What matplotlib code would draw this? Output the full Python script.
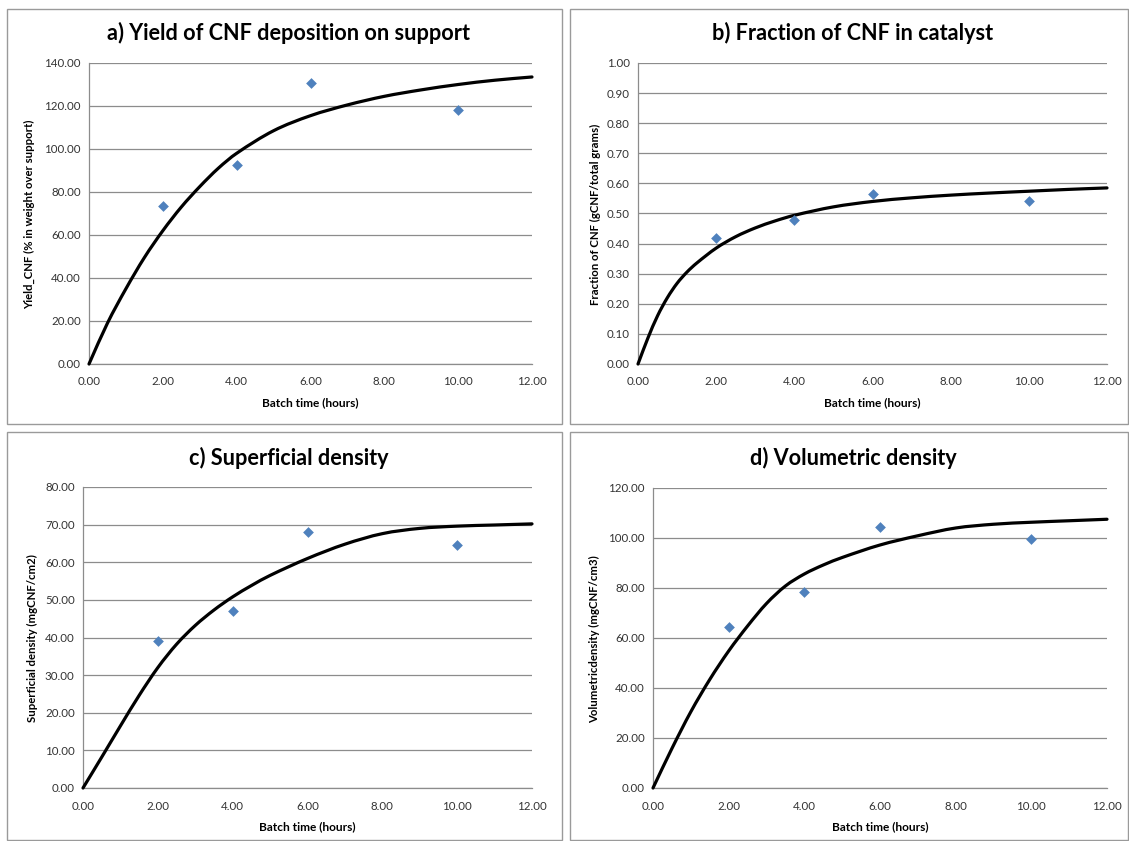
import matplotlib
matplotlib.use("Agg")
import matplotlib.pyplot as plt
from matplotlib.patches import Rectangle, PathPatch
from matplotlib.path import Path

plt.rcParams['font.family'] = ['Lato', 'DejaVu Sans']

# ---- data ----
batch_hours = [2.0, 4.0, 6.0, 10.0]

yield_points = [73.5, 92.5, 130.5, 118.0]
yield_curve_x = [0, 0.5, 1, 1.5, 2, 2.5, 3, 3.5, 4, 5, 6, 7, 8, 9, 10, 11, 12]
yield_curve_y = [0, 19, 35, 49.5, 62, 73, 82.5, 91, 98, 108.5, 115.5, 120.5, 124.5, 127.5, 130, 132, 133.5]

fraction_points = [0.42, 0.48, 0.565, 0.54]
fraction_curve_x = [0, 0.25, 0.5, 0.75, 1, 1.25, 1.5, 2, 2.5, 3, 3.5, 4, 5, 6, 7, 8, 9, 10, 11, 12]
fraction_curve_y = [0, 0.085, 0.16, 0.22, 0.268, 0.305, 0.335, 0.385, 0.423, 0.452, 0.475, 0.494,
                    0.522, 0.54, 0.552, 0.561, 0.568, 0.574, 0.58, 0.585]

superficial_points = [39.0, 47.0, 68.0, 64.7]
superficial_curve_x = [0, 0.5, 1, 1.5, 2, 2.5, 3, 3.5, 4, 4.5, 5, 6, 7, 8, 9, 10, 11, 12]
superficial_curve_y = [0, 8.2, 16.5, 24.6, 32, 38.2, 43.2, 47.3, 50.8, 53.8, 56.5, 61, 64.8, 67.6,
                       69, 69.6, 69.9, 70.2]

volumetric_points = [64.5, 78.5, 104.5, 99.5]
volumetric_curve_x = [0, 0.5, 1, 1.5, 2, 2.5, 3, 3.5, 4, 4.5, 5, 6, 7, 8, 9, 10, 11, 12]
volumetric_curve_y = [0, 15.8, 30.5, 43.4, 54.8, 64.8, 73.8, 80.8, 85.6, 89.2, 92.2, 97.2, 100.9,
                      104, 105.5, 106.3, 106.9, 107.5]

titles = ["a) Yield of CNF deposition on support", "b) Fraction of CNF in catalyst",
          "c) Superficial density", "d) Volumetric density"]
ylabels = ["Yield_CNF (% in weight over support)", "Fraction of CNF (gCNF/total grams)",
           "Superficial density (mgCNF/cm2)", "Volumetricdensity (mgCNF/cm3)"]
xlabel = "Batch time (hours)"
x_ticks = [0, 2, 4, 6, 8, 10, 12]
y_ticks = [
    [0, 20, 40, 60, 80, 100, 120, 140],
    [0, 0.1, 0.2, 0.3, 0.4, 0.5, 0.6, 0.7, 0.8, 0.9, 1.0],
    [0, 10, 20, 30, 40, 50, 60, 70, 80],
    [0, 20, 40, 60, 80, 100, 120],
]

W, H = 1129, 841
fig = plt.figure(figsize=(W / 100, H / 100), dpi=100)


def fx(px):
    return px / W


def fy(py):
    return 1 - py / H


def smooth_path(xs, ys):
    """Smoothed line drawn as cubic Hermite/Bezier segments through the read points."""
    n = len(xs)
    m = []
    for i in range(n):
        a = max(i - 1, 0)
        b = min(i + 1, n - 1)
        m.append((ys[b] - ys[a]) / (xs[b] - xs[a]))
    verts = [(xs[0], ys[0])]
    codes = [Path.MOVETO]
    for i in range(n - 1):
        dx = xs[i + 1] - xs[i]
        c1 = (xs[i] + dx / 3, ys[i] + m[i] * dx / 3)
        c2 = (xs[i + 1] - dx / 3, ys[i + 1] - m[i + 1] * dx / 3)
        verts += [c1, c2, (xs[i + 1], ys[i + 1])]
        codes += [Path.CURVE4] * 3
    return Path(verts, codes)


# panel frames (pixels: x0, y0, x1, y1)
frames = [(7, 9, 562, 424), (570, 9, 1128, 424), (7, 432, 562, 840), (570, 432, 1128, 840)]
for (x0, y0, x1, y1) in frames:
    fig.patches.append(Rectangle((fx(x0), fy(y1)), fx(x1 - x0), (y1 - y0) / H,
                                 transform=fig.transFigure, fill=False,
                                 edgecolor='#9a9a9a', linewidth=1.0))

# axes rectangles (pixels: left, top, right, bottom)
axes_px = [(89, 63, 532, 364), (638, 63, 1107, 364), (83, 487, 532, 788), (653, 488, 1107, 788)]
title_y = [33, 33, 458, 458]
ylabel_x = [30, 595, 32, 595]

series = [
    (yield_points, yield_curve_x, yield_curve_y),
    (fraction_points, fraction_curve_x, fraction_curve_y),
    (superficial_points, superficial_curve_x, superficial_curve_y),
    (volumetric_points, volumetric_curve_x, volumetric_curve_y),
]

for i, (l, t, r, b) in enumerate(axes_px):
    ax = fig.add_axes([fx(l), fy(b), (r - l) / W, (b - t) / H])
    pts, cx, cy = series[i]
    yt = y_ticks[i]
    ax.set_xlim(0, 12)
    ax.set_ylim(yt[0], yt[-1])
    ax.set_xticks(x_ticks)
    ax.set_xticklabels([f"{v:.2f}" for v in x_ticks])
    ax.set_yticks(yt)
    ax.set_yticklabels([f"{v:.2f}" for v in yt])
    ax.grid(axis='y', color='#8c8c8c', linewidth=0.9)
    ax.set_axisbelow(True)
    for s in ['top', 'right']:
        ax.spines[s].set_visible(False)
    for s in ['left', 'bottom']:
        ax.spines[s].set_color('#8c8c8c')
        ax.spines[s].set_linewidth(0.9)
    ax.tick_params(axis='both', length=0, labelsize=8.3, colors='#333333')
    ax.tick_params(axis='x', pad=9)
    ax.tick_params(axis='y', pad=6)
    patch = PathPatch(smooth_path(cx, cy), facecolor='none', edgecolor='black',
                      linewidth=2.3, capstyle='round', zorder=3, clip_on=False)
    ax.add_patch(patch)
    ax.scatter(batch_hours, pts, marker='D', s=30, color='#4f81bd', zorder=4, linewidths=0)
    ax.set_xlabel(xlabel, fontsize=8.6, fontweight='bold', labelpad=7)
    fx0, _, fx1, _ = frames[i]
    fig.text(fx((fx0 + fx1) / 2 + 4), fy(title_y[i]), titles[i], ha='center', va='center',
             fontsize=15.6, fontweight='bold')
    fig.text(fx(ylabel_x[i]), fy((t + b) / 2 + 1), ylabels[i], rotation=90,
             ha='center', va='center', fontsize=8.2, fontweight='bold')

fig.savefig("out.png", dpi=100)
